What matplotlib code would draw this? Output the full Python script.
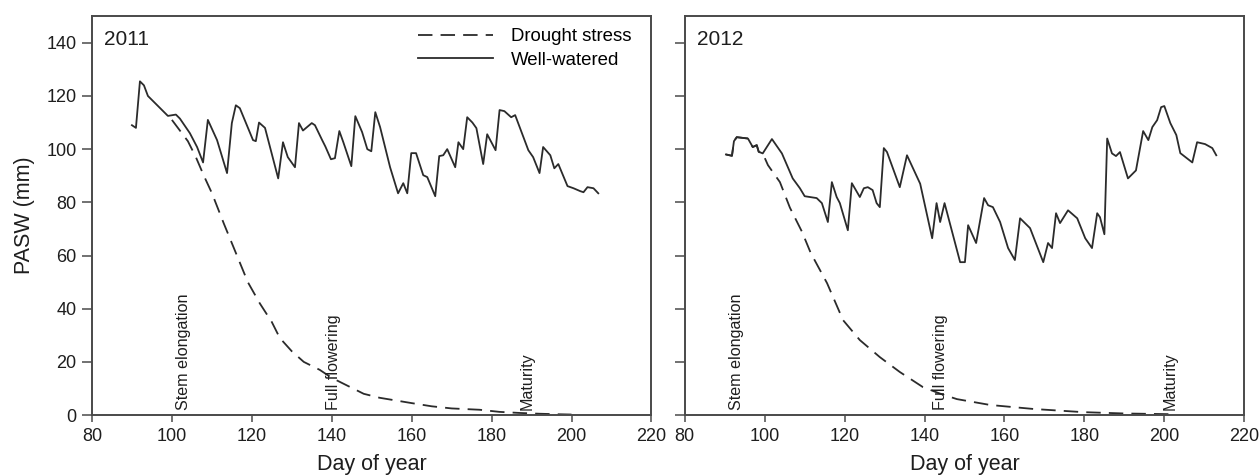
import numpy as np
import matplotlib.pyplot as plt

plt.rcParams['font.family'] = ['Liberation Sans', 'DejaVu Sans']

# 2011 well-watered (day of year, PASW mm)
ww11_day = [90, 91, 92, 93, 94, 97, 99, 101, 102, 104.5, 106.3, 107.8, 109, 111.3, 113.8,
            115, 116, 117, 120.3, 121, 121.8, 123.3, 126.6, 127.8, 129, 130.8, 131.8, 132.8,
            135, 135.8, 137.6, 138.4, 139.8, 140.8, 141.9, 142.9, 144.9, 145.9, 147.6, 148.9,
            149.9, 150.9, 152.1, 154.6, 156.6, 157.9, 158.9, 159.9, 161.1, 162.9, 163.9, 165.9,
            166.9, 167.9, 168.9, 170.9, 171.7, 172.9, 173.9, 175.2, 176.2, 177.9, 178.9, 181,
            182, 183.2, 184.9, 185.9, 189.2, 190.4, 192, 192.9, 194.7, 195.7, 196.7, 199,
            200.5, 202.2, 203, 204, 205.5, 206.7]
ww11_val = [109, 108, 125.5, 124, 120, 115.5, 112.5, 113, 111.5, 106, 100.8, 95, 111, 103.4, 91,
            109.8, 116.5, 115.4, 103.4, 103, 110, 108, 89, 102.6, 97, 93.2, 109.8, 107,
            109.8, 109, 103.4, 101, 96.2, 96.6, 106.8, 102.6, 93.6, 112.4, 106.4, 100,
            99.2, 113.9, 108.3, 93.2, 83.4, 87.2, 83.4, 98.5, 98.5, 90.2, 89.5, 82.3,
            97.4, 97.7, 100, 93.2, 102.6, 100, 112, 110, 107.9, 94.4, 105.6, 99.6,
            114.7, 114.3, 112, 112.8, 99.6, 97, 91, 100.8, 97.7, 92.8, 94.4, 86.1,
            85.3, 84.2, 83.8, 85.7, 85.3, 83.4]

# 2011 drought stress
dr11_day = [100, 102, 104, 106, 108, 110, 113, 116, 119, 122, 125, 127, 130, 133, 137, 140,
            144, 148, 152, 156, 160, 165, 170, 177, 182, 187, 192, 197, 200]
dr11_val = [111, 107, 103, 97, 90, 83.5, 72, 61, 50, 42, 35, 29, 24, 20, 17, 14,
            11, 8, 6.5, 5.5, 4.5, 3.3, 2.5, 2, 1.2, 0.8, 0.5, 0.3, 0.2]

# 2012 well-watered
ww12_day = [90.3, 91.8, 92.3, 93, 95.8, 97, 98, 98.5, 99.5, 101.8, 104.3, 107, 108.8, 110,
            113, 114.3, 115.8, 116.8, 118, 118.8, 120.8, 121.8, 123.8, 124.8, 125.8, 127,
            128, 128.8, 129.8, 130.6, 133.8, 135.6, 138.9, 141.9, 143, 143.9, 145, 148.9,
            150.1, 150.9, 152.9, 154.9, 155.9, 157.1, 158.9, 160.9, 162.6, 163.9, 166.4,
            169.7, 170.9, 171.9, 172.9, 173.9, 175.9, 178.2, 180.2, 181.9, 183.2, 183.9,
            185, 185.7, 186.9, 187.9, 188.9, 190.9, 192.9, 194.7, 196, 197, 198.2, 199.2,
            200, 201.5, 203, 204, 207, 208.2, 210.2, 212, 213]
ww12_val = [98, 97.5, 103, 104.5, 104, 100.8, 101.5, 99, 98.4, 103.8, 98.4, 89, 85.3, 82.3,
            81.6, 79.7, 72.6, 87.6, 82, 79.7, 69.5, 87.2, 82, 85.3, 85.7, 84.6,
            79.7, 78.2, 100.4, 98.9, 85.7, 97.7, 87, 66.5, 79.7, 72.6, 79.7, 57.5,
            57.5, 71.4, 64.7, 81.6, 78.9, 78.2, 72.6, 62.8, 58.3, 74, 70.3,
            57.5, 64.7, 62.8, 75.9, 72.2, 77, 74, 66.5, 62.8, 75.9, 74.4,
            68, 104, 98.4, 97.4, 98.9, 89, 92, 106.8, 103.4, 108.3, 110.9, 115.8,
            116.2, 109.8, 105.3, 98.5, 95, 102.6, 101.9, 100.4, 97.7]

# 2012 drought stress
dr12_day = [90.3, 91.8, 92.3, 93, 95.8, 97, 98, 98.5, 99.5, 100.8, 103.8, 106.3, 109.3, 111.5,
            115.6, 119.6, 123.8, 128.8, 133.8, 139.6, 144, 148.1, 156.4, 167.2, 179.7, 190, 203]
dr12_val = [98, 97.5, 103, 104.5, 104, 100.8, 101.5, 99, 98.4, 94, 87.6, 78, 69, 61,
            49.6, 35.7, 28.2, 21.8, 16.2, 10.5, 8, 6, 3.8, 2.3, 1.1, 0.6, 0.3]

# growth stages: (label, day) for each year
stages11 = [("Stem elongation", 102.8), ("Full flowering", 140.5), ("Maturity", 188.8)]
stages12 = [("Stem elongation", 93.0), ("Full flowering", 144.0), ("Maturity", 201.5)]

line_col = '#2b2b2b'
spine_col = '#4a4a4a'
txt_col = '#1e1e1e'

fig = plt.figure(figsize=(12.6, 4.76), dpi=100)
ax1 = fig.add_axes([0.073, 0.128, 0.444, 0.838])
ax2 = fig.add_axes([0.5435, 0.128, 0.444, 0.838])

panels = [(ax1, '2011', ww11_day, ww11_val, dr11_day, dr11_val, stages11),
          (ax2, '2012', ww12_day, ww12_val, dr12_day, dr12_val, stages12)]

for ax, year, wd, wv, dd, dv, stages in panels:
    ax.plot(dd, dv, color=line_col, lw=1.3, dashes=(8, 4.5), label='Drought stress')
    ax.plot(wd, wv, color=line_col, lw=1.3, label='Well-watered')
    for name, day in stages:
        ax.text(day, 2, name, rotation=90, ha='center', va='bottom',
                fontsize=11.6, color=txt_col)
    ax.text(0.022, 0.965, year, transform=ax.transAxes, ha='left', va='top',
            fontsize=15, color=txt_col)
    ax.set_xlim(80, 220)
    ax.set_ylim(0, 150)
    ax.set_xticks(np.arange(80, 221, 20))
    ax.set_yticks(np.arange(0, 141, 20))
    for s in ax.spines.values():
        s.set_color(spine_col)
        s.set_linewidth(1.4)
    ax.tick_params(direction='out', width=1.1, color=spine_col,
                   labelsize=13, labelcolor=txt_col)
    ax.tick_params(axis='x', length=5, pad=4)
    ax.tick_params(axis='y', length=7, pad=4)
    ax.set_xlabel('Day of year', fontsize=15.5, labelpad=7, color=txt_col)

ax1.set_ylabel('PASW (mm)', fontsize=15.5, labelpad=8, color=txt_col)
ax2.tick_params(axis='y', labelleft=False)

ax1.legend(loc='upper left', bbox_to_anchor=(0.583, 0.97), frameon=False,
           fontsize=13.4, handlelength=4.0, handletextpad=1.0,
           borderaxespad=0.0, borderpad=0.0, labelspacing=0.35)

fig.savefig('out.png', dpi=100)
